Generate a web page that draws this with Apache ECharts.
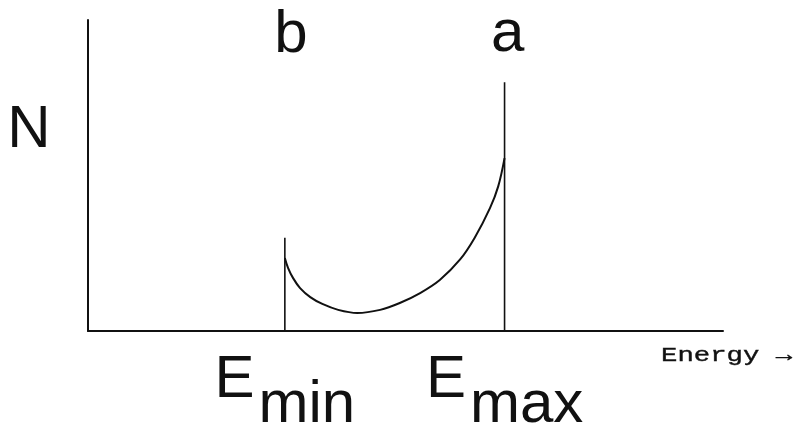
<!DOCTYPE html>
<html>
<head>
<meta charset="utf-8">
<script src="https://cdn.jsdelivr.net/npm/echarts@6/dist/echarts.min.js"></script>
<style>
  html, body { margin: 0; padding: 0; background: #fff; }
  #chart { width: 800px; height: 425px; }
</style>
</head>
<body>
<div id="chart"></div>
<script>
// Energy spectrum sketch: counts N versus energy, bounded by E_min (b) and E_max (a)
const energyRange = [0, 100];
const countRange = [0, 100];

const eMin = 31.0;          // edge b
const eMax = 65.6;          // edge a
const edgeHeightB = 30;     // height of the line at b
const edgeHeightA = 80;     // height of the line at a

const curveEnergy = [31.0, 31.5, 32.3, 33.4, 35.0, 36.9, 39.4, 42.4, 46.0, 49.1, 52.3, 55.4, 58.6, 60.9, 63.3, 64.6, 65.6];
const curveCount  = [23.5, 20.3, 17.0, 13.8, 10.9,  8.7,  6.8,  5.8,  6.8,  9.0, 12.2, 16.4, 23.0, 30.0, 39.5, 46.5, 55.6];

const edgeLabels = ['b', 'a'];
const tickLabels = [['E', 'min'], ['E', 'max']];
const axisName = 'Energy \u2192';
const countName = 'N';

const ink = '#111';
const bigFont = 'Liberation Sans';

const chart = echarts.init(document.getElementById('chart'), null, { renderer: 'canvas' });

const curveData = curveEnergy.map((x, i) => [x, curveCount[i]]);
const edges = [eMin, eMax];

const option = {
  animation: false,
  backgroundColor: '#fff',
  grid: { left: 88, right: 77, top: 20, bottom: 94, outerBoundsMode: 'none', containLabel: false },
  xAxis: {
    type: 'value',
    min: energyRange[0],
    max: energyRange[1],
    splitLine: { show: false },
    axisLine: { show: true, lineStyle: { color: ink, width: 2 } },
    axisTick: { show: false },
    axisLabel: {
      show: true,
      customValues: edges,
      margin: 19,
      color: ink,
      formatter: function (v) {
        const i = edges.indexOf(v);
        if (i < 0) return '';
        return '{e|' + tickLabels[i][0] + '}{s|' + tickLabels[i][1] + '}';
      },
      rich: {
        e: { fontFamily: bigFont, fontSize: 60, color: ink, verticalAlign: 'top', lineHeight: 66 },
        s: { fontFamily: bigFont, fontSize: 60, color: ink, verticalAlign: 'top', lineHeight: 66, padding: [25, 0, 0, 4] }
      }
    }
  },
  yAxis: {
    type: 'value',
    min: countRange[0],
    max: countRange[1],
    splitLine: { show: false },
    axisLine: { show: true, lineStyle: { color: ink, width: 2 } },
    axisTick: { show: false },
    axisLabel: { show: false }
  },
  series: [
    {
      name: 'spectrum',
      type: 'line',
      data: curveData,
      smooth: 0.35,
      symbol: 'none',
      lineStyle: { color: ink, width: 2 },
      z: 3
    },
    {
      name: 'edge b',
      type: 'line',
      data: [[eMin, 0], [eMin, edgeHeightB]],
      symbol: 'none',
      lineStyle: { color: ink, width: 1.6 }
    },
    {
      name: 'edge a',
      type: 'line',
      data: [[eMax, 0], [eMax, edgeHeightA]],
      symbol: 'none',
      lineStyle: { color: ink, width: 1.6 }
    }
  ]
};

chart.setOption(option);

// Text labels placed from the axis scales
const pB = chart.convertToPixel({ gridIndex: 0 }, [eMin, 0]);
const pA = chart.convertToPixel({ gridIndex: 0 }, [eMax, 0]);
const axisEnd = chart.convertToPixel({ gridIndex: 0 }, [energyRange[1], 0]);
const yTop = chart.convertToPixel({ gridIndex: 0 }, [0, countRange[1]]);

chart.setOption({
  graphic: [
    {
      type: 'text', x: pB[0] + 6, y: 65,
      style: { text: edgeLabels[0], font: '60px "' + bigFont + '"', fill: ink, align: 'center', verticalAlign: 'bottom' }
    },
    {
      type: 'text', x: pA[0] + 3, y: 64,
      style: { text: edgeLabels[1], font: '60px "' + bigFont + '"', fill: ink, align: 'center', verticalAlign: 'bottom' }
    },
    {
      type: 'text', x: 29, y: yTop[1] + 140,
      style: { text: countName, font: '60px "' + bigFont + '"', fill: ink, align: 'center', verticalAlign: 'bottom' }
    },
    {
      type: 'text', x: axisEnd[0] - 62, y: axisEnd[1] + 35, scaleX: 1.3, scaleY: 1,
      style: { text: axisName, font: '21px "Liberation Mono"', fill: ink, stroke: ink, lineWidth: 0.4, align: 'left', verticalAlign: 'bottom' }
    }
  ]
});
</script>
</body>
</html>
